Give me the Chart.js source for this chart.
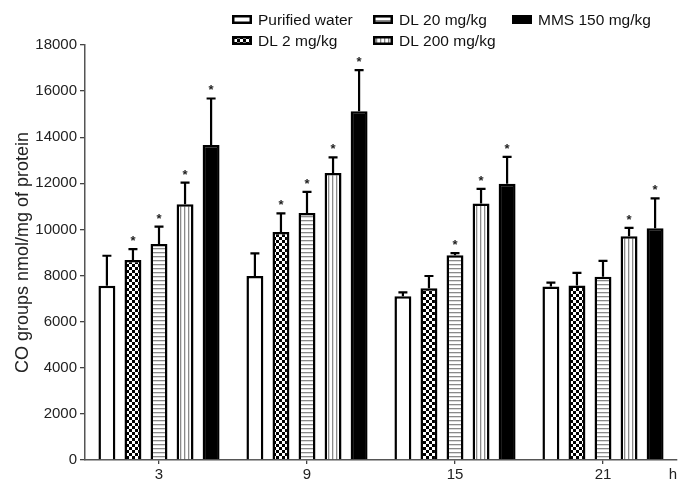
<!DOCTYPE html>
<html><head><meta charset="utf-8">
<script src="https://cdn.jsdelivr.net/npm/chart.js@4"></script>
<style>html,body{margin:0;padding:0;background:#fff}#wrap{width:685px;height:494px;position:relative}</style>
</head><body><div id="wrap"><canvas id="c"></canvas></div>
<script>
// ---- data ----
const categories = ['3', '9', '15', '21'];
const seriesNames = ['Purified water', 'DL 2 mg/kg', 'DL 20 mg/kg', 'DL 200 mg/kg', 'MMS 150 mg/kg'];
const purifiedWater = [7560, 7980, 7100, 7520];
const purifiedWaterErr = [1300, 980, 170, 170];
const dl2 = [8670, 9890, 7450, 7570];
const dl2Err = [480, 810, 530, 550];
const dl20 = [9370, 10710, 8880, 7950];
const dl20Err = [750, 920, 90, 690];
const dl200 = [11090, 12450, 11120, 9710];
const dl200Err = [940, 680, 640, 360];
const mms = [13660, 15130, 11980, 10050];
const mmsErr = [2020, 1780, 1170, 1300];
const purifiedWaterSig = [false, false, false, false];
const dl2Sig = [true, true, false, false];
const dl20Sig = [true, true, true, false];
const dl200Sig = [true, true, true, true];
const mmsSig = [true, true, true, true];
const yTickValues = [0, 2000, 4000, 6000, 8000, 10000, 12000, 14000, 16000, 18000];
const yTitle = 'CO groups nmol/mg of protein';
const xUnit = 'h';

const values = [purifiedWater, dl2, dl20, dl200, mms];
const errors = [purifiedWaterErr, dl2Err, dl20Err, dl200Err, mmsErr];
const sigs = [purifiedWaterSig, dl2Sig, dl20Sig, dl200Sig, mmsSig];

// ---- patterns ----
const canvas = document.getElementById('c');
const mainCtx = canvas.getContext('2d');
function makePattern(w, h, draw) {
  const pc = document.createElement('canvas');
  pc.width = w; pc.height = h;
  const p = pc.getContext('2d');
  p.fillStyle = '#fff'; p.fillRect(0, 0, w, h);
  draw(p);
  return mainCtx.createPattern(pc, 'repeat');
}
const checker = makePattern(6, 6, p => { p.fillStyle = '#000'; p.fillRect(0, 0, 3, 3); p.fillRect(3, 3, 3, 3); });
const hStripes = makePattern(4, 4, p => { p.fillStyle = '#8a8a8a'; p.fillRect(0, 0, 4, 1.3); });
const vStripes = makePattern(4, 4, p => { p.fillStyle = '#8a8a8a'; p.fillRect(0, 0, 1.3, 4); });
const fills = ['#ffffff', checker, hStripes, vStripes, '#000000'];

const FONT = '"Liberation Sans", Arial, Helvetica, sans-serif';

// ---- plugins ----
const errBarPlugin = {
  id: 'errbars',
  afterDatasetsDraw(chart) {
    const ctx = chart.ctx, y = chart.scales.y;
    chart.data.datasets.forEach((ds, di) => {
      const meta = chart.getDatasetMeta(di);
      meta.data.forEach((bar, i) => {
        const top = y.getPixelForValue(values[di][i] + errors[di][i]);
        ctx.save();
        ctx.strokeStyle = '#000';
        ctx.lineWidth = 2.2;
        ctx.beginPath();
        ctx.moveTo(bar.x, bar.y);
        ctx.lineTo(bar.x, top);
        ctx.moveTo(bar.x - 4.5, top);
        ctx.lineTo(bar.x + 4.5, top);
        ctx.stroke();
        if (sigs[di][i]) {
          ctx.fillStyle = '#222';
          ctx.font = 'bold 13px ' + FONT;
          ctx.textAlign = 'center';
          ctx.textBaseline = 'alphabetic';
          ctx.fillText('*', bar.x, top - 4);
        }
        ctx.restore();
      });
    });
  }
};

const legendPlugin = {
  id: 'customLegend',
  afterDraw(chart) {
    const ctx = chart.ctx;
    const slots = [
      { x: 232, y: 15 }, { x: 232, y: 36 },
      { x: 373, y: 15 }, { x: 373, y: 36 },
      { x: 512, y: 15 }
    ];
    ctx.save();
    chart.data.datasets.forEach((ds, di) => {
      const s = slots[di];
      ctx.fillStyle = '#000';
      ctx.fillRect(s.x, s.y, 20, 9);
      ctx.fillStyle = ds.backgroundColor;
      if (di !== 4) ctx.fillRect(s.x + 2.5, s.y + 2.5, 15, 4);
      ctx.fillStyle = '#111';
      ctx.font = '15.5px ' + FONT;
      ctx.textAlign = 'left';
      ctx.textBaseline = 'alphabetic';
      ctx.fillText(ds.label, s.x + 26, s.y + 10);
    });
    // x unit label
    ctx.font = '15px ' + FONT;
    ctx.fillStyle = '#222';
    ctx.textAlign = 'center';
    ctx.textBaseline = 'middle';
    ctx.fillText(xUnit, 673, 475);
    ctx.restore();
  }
};

new Chart(canvas, {
  type: 'bar',
  data: {
    labels: categories,
    datasets: seriesNames.map((name, i) => ({
      label: name,
      data: values[i],
      backgroundColor: fills[i],
      borderColor: '#000',
      borderWidth: 2.5,
      borderSkipped: 'start',
      categoryPercentage: 0.88,
      barPercentage: 0.65
    }))
  },
  options: {
    responsive: true,
    maintainAspectRatio: false,
    animation: false,
    layout: { padding: { top: 45, right: 8, left: 0, bottom: 0 } },
    plugins: { legend: { display: false }, tooltip: { enabled: false } },
    scales: {
      x: {
        offset: true,
        grid: { display: true, drawOnChartArea: false, offset: false, tickLength: 4, color: '#444', lineWidth: 1.3 },
        border: { display: true, color: '#555', width: 1.5 },
        ticks: { color: '#222', font: { family: FONT, size: 15 }, padding: 2 },
        afterFit(scale) { scale.height = 34; }
      },
      y: {
        min: 0, max: 18000,
        afterBuildTicks(scale) { scale.ticks = yTickValues.map(v => ({ value: v })); },
        grid: { display: true, drawOnChartArea: false, tickLength: 5, color: '#444', lineWidth: 1.3 },
        border: { display: true, color: '#555', width: 1.5 },
        ticks: { color: '#222', font: { family: FONT, size: 15 }, padding: 3, callback: v => String(v) },
        title: { display: true, text: yTitle, color: '#222', font: { family: FONT, size: 18 }, padding: { top: 12, bottom: 0 } },
        afterFit(scale) { scale.width = 85; }
      }
    }
  },
  plugins: [errBarPlugin, legendPlugin]
});
</script>
</body></html>
